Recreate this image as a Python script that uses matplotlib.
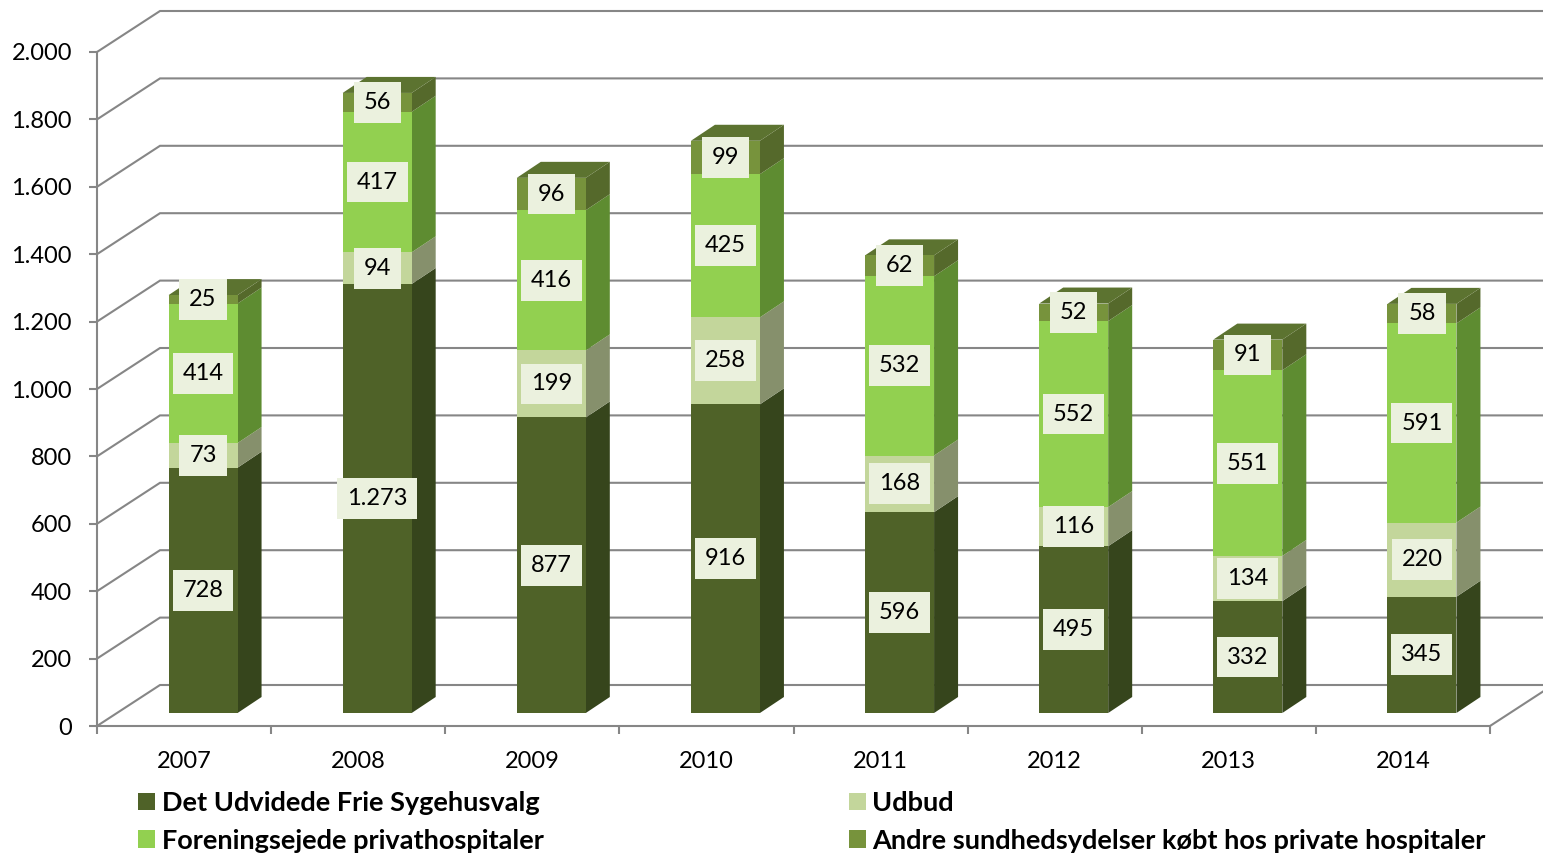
import matplotlib
matplotlib.use("Agg")
import matplotlib.pyplot as plt
from matplotlib.patches import Polygon, Patch
import numpy as np

plt.rcParams['font.family'] = ['Lato', 'DejaVu Sans']

years = ['2007', '2008', '2009', '2010', '2011', '2012', '2013', '2014']
series_names = ['Det Udvidede Frie Sygehusvalg', 'Udbud',
                'Foreningsejede privathospitaler',
                'Andre sundhedsydelser købt hos private hospitaler']
udvidede = [728, 1273, 877, 916, 596, 495, 332, 345]
udbud = [73, 94, 199, 258, 168, 116, 134, 220]
forening = [414, 417, 416, 425, 532, 552, 551, 591]
andre = [25, 56, 96, 99, 62, 52, 91, 58]
y_ticks = [0, 200, 400, 600, 800, 1000, 1200, 1400, 1600, 1800, 2000]
y_ticklabels = ['0', '200', '400', '600', '800', '1.000', '1.200', '1.400',
                '1.600', '1.800', '2.000']

series = [udvidede, udbud, forening, andre]
front_cols = ['#4F6228', '#C3D69B', '#92D050', '#77933C']
side_cols = ['#36451C', '#86906C', '#5E8C31', '#55692B']
top_col = '#5C7330'
grid_col = '#868686'

W, H = 1543, 855
fig = plt.figure(figsize=(W / 100, H / 100), dpi=100)
ax = fig.add_axes([97 / W, 129 / H, 1393 / W, 674 / H])
n = len(years)
ax.set_xlim(-0.5, n - 0.5)
ax.set_ylim(0, 2000)

px_x = 1393 / n          # pixels per category
px_y = 674 / 2000        # pixels per value unit
DX, DY = 63 / px_x, 41 / px_y          # floor depth
FDX, FDY = 19 / px_x, 13 / px_y        # front plane of bars
BDX, BDY = 24 / px_x, 16 / px_y        # bar depth
bw = 69 / px_x

# back wall gridlines with left wall diagonal
for v in y_ticks:
    ax.plot([-0.5, -0.5 + DX, n - 0.5 + DX], [v, v + DY, v + DY],
            color=grid_col, lw=1.5, clip_on=False, zorder=1,
            solid_joinstyle='miter')
# floor right diagonal
ax.plot([n - 0.5, n - 0.5 + DX], [0, DY], color=grid_col, lw=1.5,
        clip_on=False, zorder=1)

x = np.arange(n)
bottoms = np.zeros(n)
for k, vals in enumerate(series):
    vals = np.array(vals, dtype=float)
    ax.bar(x + FDX, vals, bottom=bottoms + FDY, width=bw,
           color=front_cols[k], zorder=3, clip_on=False, linewidth=0)
    for i in range(n):
        x1 = x[i] + FDX + bw / 2
        y0 = bottoms[i] + FDY
        y1 = y0 + vals[i]
        side = Polygon([(x1, y0), (x1 + BDX, y0 + BDY), (x1 + BDX, y1 + BDY),
                        (x1, y1)], closed=True, facecolor=side_cols[k],
                       edgecolor='none', zorder=2.9, clip_on=False)
        ax.add_patch(side)
    bottoms = bottoms + vals

# top faces
for i in range(n):
    x0 = x[i] + FDX - bw / 2
    x1 = x[i] + FDX + bw / 2
    yt = bottoms[i] + FDY
    top = Polygon([(x0, yt), (x1, yt), (x1 + BDX, yt + BDY),
                   (x0 + BDX, yt + BDY)], closed=True, facecolor=top_col,
                  edgecolor='none', zorder=2.9, clip_on=False)
    ax.add_patch(top)

# value labels
bottoms = np.zeros(n)
for k, vals in enumerate(series):
    vals = np.array(vals, dtype=float)
    for i in range(n):
        yc = bottoms[i] + FDY + vals[i] / 2
        lbl = f"{int(vals[i]):,}".replace(',', '.')
        ax.text(x[i] + FDX, yc, lbl, ha='center', va='center', fontsize=17,
                color='black', zorder=5,
                bbox=dict(boxstyle='square,pad=0.42', facecolor='#EBF1DE',
                          edgecolor='none'))
    bottoms = bottoms + vals

# axes styling
for s in ['top', 'right']:
    ax.spines[s].set_visible(False)
for s in ['left', 'bottom']:
    ax.spines[s].set_color(grid_col)
    ax.spines[s].set_linewidth(1.5)
ax.set_yticks(y_ticks)
ax.set_yticklabels(y_ticklabels, fontsize=17)
ax.tick_params(axis='y', length=6, width=1.5, color=grid_col, pad=12)
ax.set_xticks(x)
ax.set_xticklabels(years, fontsize=17)
ax.set_xticks(np.arange(n + 1) - 0.5, minor=True)
ax.tick_params(axis='x', which='major', length=0, pad=18)
ax.tick_params(axis='x', which='minor', length=6, width=1.5, color=grid_col)
ax.set_facecolor('none')

handles = [Patch(facecolor=front_cols[0]), Patch(facecolor=front_cols[2]),
           Patch(facecolor=front_cols[1]), Patch(facecolor=front_cols[3])]
labels = [series_names[0], series_names[2], series_names[1], series_names[3]]
fig.legend(handles, labels, loc='upper left', bbox_to_anchor=(138 / W, 1 - 791 / H),
           ncol=2, frameon=False, prop={'weight': 'bold', 'size': 19.5},
           handlelength=0.63, handleheight=0.63, handletextpad=0.25,
           columnspacing=11.26, labelspacing=0.5, borderaxespad=0, borderpad=0)

fig.savefig('out.png', dpi=100)
